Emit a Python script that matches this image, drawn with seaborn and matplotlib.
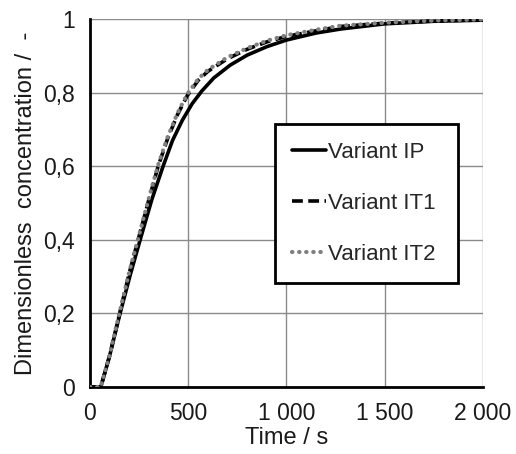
import numpy as np
import pandas as pd
import seaborn as sns
import matplotlib.pyplot as plt

# values
t_ip = [0, 55, 100, 153, 205, 258, 315, 372, 420, 470, 520, 570, 630, 714, 800, 900,
        1000, 1150, 1276, 1500, 1750, 2000]
c_ip = [0, 0, 0.085, 0.2, 0.305, 0.405, 0.51, 0.6, 0.67, 0.725, 0.77, 0.805, 0.84, 0.875,
        0.902, 0.925, 0.943, 0.962, 0.973, 0.987, 0.994, 0.997]

t_it = [0, 55, 100, 153, 200, 255, 300, 347, 395, 445, 495, 550, 600, 699, 800, 900,
        1000, 1150, 1276, 1500, 1750, 2000]
c_it1 = [0, 0, 0.085, 0.205, 0.31, 0.42, 0.51, 0.6, 0.675, 0.74, 0.792, 0.833, 0.858, 0.892,
         0.918, 0.938, 0.953, 0.968, 0.98, 0.989, 0.995, 0.998]
c_it2 = [0, 0, 0.087, 0.208, 0.313, 0.423, 0.514, 0.604, 0.679, 0.744, 0.796, 0.837, 0.862,
         0.896, 0.921, 0.941, 0.956, 0.971, 0.982, 0.99, 0.996, 0.999]

labels = ["Variant IP", "Variant IT1", "Variant IT2"]
x_ticks = [0, 500, 1000, 1500, 2000]
x_tick_labels = ["0", "500", "1 000", "1 500", "2 000"]
y_ticks = [0, 0.2, 0.4, 0.6, 0.8, 1.0]
y_tick_labels = ["0", "0,2", "0,4", "0,6", "0,8", "1"]

df_ip = pd.DataFrame({"t": t_ip, "c": c_ip})
df_it1 = pd.DataFrame({"t": t_it, "c": c_it1})
df_it2 = pd.DataFrame({"t": t_it, "c": c_it2})

sns.set_style("white")
plt.rcParams['font.family'] = ['Liberation Sans', 'DejaVu Sans']

fig = plt.figure(figsize=(5.16, 4.54), dpi=100)
ax = fig.add_axes([0.1744, 0.1476, 0.936 - 0.1744, 0.958 - 0.1476])

sns.lineplot(data=df_ip, x="t", y="c", ax=ax, color="black", linewidth=2.6,
             label=labels[0], zorder=4)
sns.lineplot(data=df_it1, x="t", y="c", ax=ax, color="black", linewidth=2.6,
             linestyle=(0, (3, 1.5)), label=labels[1], zorder=5)
sns.lineplot(data=df_it2, x="t", y="c", ax=ax, color="#808080", linewidth=3,
             linestyle=(0, (0.1, 1.6)), dash_capstyle="round", label=labels[2], zorder=6)

ax.set_xlim(0, 2000)
ax.set_ylim(0, 1)
ax.set_xticks(x_ticks)
ax.set_xticklabels(x_tick_labels)
ax.set_yticks(y_ticks)
ax.set_yticklabels(y_tick_labels)
ax.tick_params(axis="both", length=0, labelsize=16.5, pad=11, colors="#1a1a1a")
ax.grid(True, color="#8a8a8a", linewidth=1)
ax.set_axisbelow(True)

for side in ["top", "right"]:
    ax.spines[side].set_visible(False)
for side in ["left", "bottom"]:
    ax.spines[side].set_color("black")
    ax.spines[side].set_linewidth(2)

ax.set_xlabel("Time / s", fontsize=17, labelpad=1, color="#1a1a1a")
ax.set_ylabel("Dimensionless  concentration /  -", fontsize=17, labelpad=4, color="#1a1a1a")

leg = ax.legend(loc="lower left", bbox_to_anchor=(0.47, 0.283, 0.466, 0.448),
                mode="expand", fontsize=16, frameon=True, fancybox=False,
                handlelength=1.5, handletextpad=0.1, labelspacing=1.35,
                borderpad=0.8, borderaxespad=0)
leg.get_frame().set_edgecolor("black")
leg.get_frame().set_linewidth(2)
leg.get_frame().set_alpha(1)

fig.savefig("out.png", dpi=100)
